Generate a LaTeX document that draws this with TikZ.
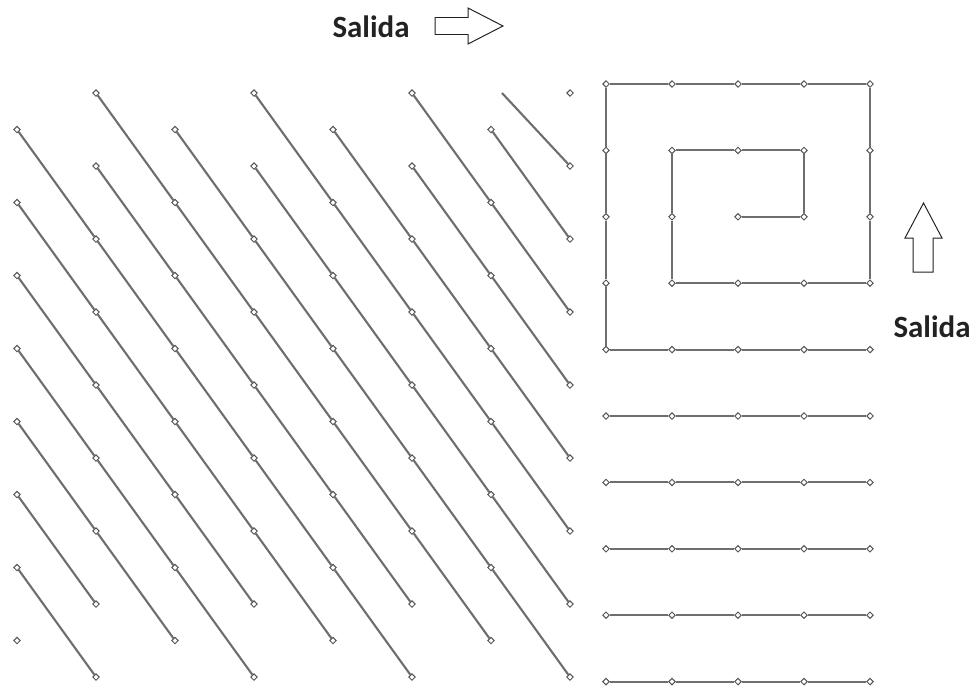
\documentclass[tikz,border=0pt]{standalone}
\usepackage{fontspec}
\setmainfont{Carlito}
\usepackage{tikz}
\usetikzlibrary{shapes.geometric}
\definecolor{rowgray}{HTML}{6E6E6E}
\definecolor{plantgray}{HTML}{555555}
\definecolor{labelblack}{HTML}{222222}

\begin{document}
\begin{tikzpicture}[x=0.025cm,y=-0.025cm,
    plant/.style={diamond,draw=plantgray,fill=white,line width=0.7pt,inner sep=0pt,minimum size=0.17cm},
    row/.style={rowgray,line width=1.5pt},
    exitlabel/.style={font=\bfseries\fontsize{22}{26}\selectfont,text=labelblack},
    exitarrow/.style={draw=labelblack,line width=0.7pt,fill=white,line join=miter}]
    \useasboundingbox (0,0) rectangle (977,687);
    % staggered planting, diagonal rows
    \foreach \i in {0,...,7}
      \foreach \j in {0,...,16}{
        \pgfmathtruncatemacro\odd{mod(\i+\j,2)}
        \ifnum\odd=1 \node[plant] (p-\i-\j) at ({17+79*\i},{93+36.5*\j}) {}; \fi
      }
    \foreach \i in {0,...,6}
      \foreach \j in {0,...,13}{
        \pgfmathtruncatemacro\odd{mod(\i+\j,2)}
        \pgfmathtruncatemacro\ni{\i+1}
        \pgfmathtruncatemacro\nj{\j+3}
        \ifnum\odd=1 \draw[row] (p-\i-\j) -- (p-\ni-\nj); \fi
      }
    \coordinate (cut) at (502,93);
    \draw[row] (cut) -- (p-7-2);
    % square grid: spiral and straight rows
    \foreach \a in {0,...,4}
      \foreach \b in {0,...,9}
        \node[plant] (s-\a-\b) at ({606+66*\a},{84+66.4*\b}) {};
    \draw[row] (s-2-2) -- (s-3-2) -- (s-3-1) -- (s-2-1) -- (s-1-1) -- (s-1-2) -- (s-1-3)
      -- (s-2-3) -- (s-3-3) -- (s-4-3) -- (s-4-2) -- (s-4-1) -- (s-4-0) -- (s-3-0)
      -- (s-2-0) -- (s-1-0) -- (s-0-0) -- (s-0-1) -- (s-0-2) -- (s-0-3) -- (s-0-4)
      -- (s-1-4) -- (s-2-4) -- (s-3-4) -- (s-4-4);
    \foreach \b in {5,...,9}
      \draw[row] (s-0-\b) -- (s-1-\b) -- (s-2-\b) -- (s-3-\b) -- (s-4-\b);
    % exits
    \node[exitlabel] (exittop) at (371,27) {Salida};
    \draw[exitarrow] (435,17.5) -- (468,17.5) -- (468,8) -- (503,26) -- (468,44) -- (468,34.5) -- (435,34.5) -- cycle;
    \draw[exitarrow] (913,272) -- (913,238) -- (905,238) -- (923.5,203) -- (942,238) -- (933,238) -- (933,272) -- cycle;
    \node[exitlabel] (exitright) at (932,327) {Salida};
  \end{tikzpicture}
\end{document}
